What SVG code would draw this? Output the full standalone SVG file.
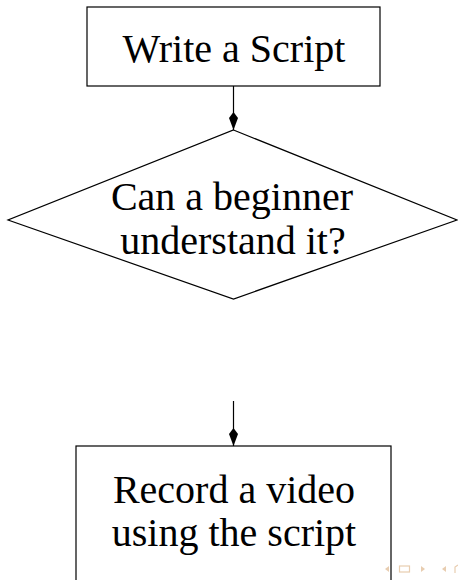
<svg xmlns="http://www.w3.org/2000/svg" width="458" height="580" viewBox="0 0 458 580">
<defs>
<marker id="kite" markerUnits="userSpaceOnUse" markerWidth="22" markerHeight="12" refX="20" refY="6" orient="auto" viewBox="0 0 22 12">
<path d="M20,6 L8,1.5 L2,6 L8,10.5 Z" fill="#000"/>
</marker>
</defs>
<style>
.node{fill:#fff;stroke:#000;stroke-width:1.2}
.lbl{font-family:"Liberation Serif","Times New Roman",serif;font-size:40px;fill:#000;text-anchor:middle}
.edge{stroke:#000;stroke-width:1.2;fill:none}
.nav{fill:#e8cdb0;stroke:none}
.navs{fill:none;stroke:#e8cdb0;stroke-width:1.2}
</style>
<rect width="458" height="580" fill="#fff"/>
<g id="edges">
<path class="edge" d="M233.5,86 L233.5,130" marker-end="url(#kite)"/>
<path class="edge" d="M233.5,401 L233.5,446" marker-end="url(#kite)"/>
</g>
<g id="write">
<rect class="node" x="87" y="7" width="293" height="79"/>
<text class="lbl" x="234" y="62">Write a Script</text>
</g>
<g id="decide">
<polygon class="node" points="233.5,130 457,220 233.5,299 8,220"/>
<text class="lbl" x="232" y="210">Can a beginner</text>
<text class="lbl" x="233" y="254">understand it?</text>
</g>
<g id="record">
<rect class="node" x="76" y="446" width="315" height="150"/>
<text class="lbl" x="234" y="503">Record a video</text>
<text class="lbl" x="234" y="546">using the script</text>
</g>
<g id="nav">
<polygon class="nav" points="385,569 389,566 389,572"/>
<rect class="navs" x="399.5" y="566" width="10" height="6"/>
<polygon class="nav" points="425,569 421,566 421,572"/>
<polygon class="nav" points="442,569 446,566 446,572"/>
<path class="navs" d="M455,573 L455,567 L458,565"/>
</g>
</svg>
